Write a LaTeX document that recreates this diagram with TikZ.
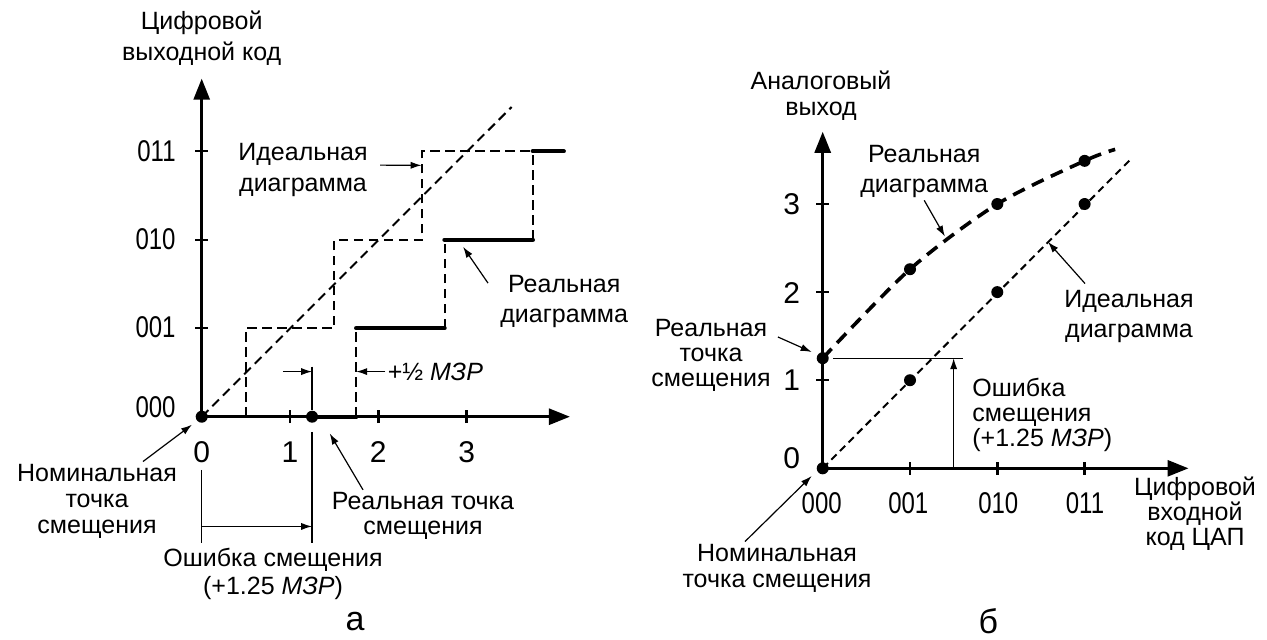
\documentclass[tikz,border=0pt]{standalone}
\usepackage{fontspec}
\setmainfont{Liberation Sans}
\usetikzlibrary{arrows.meta}
\tikzset{
  axis/.style={line width=1.4pt,-{Triangle[length=10.5pt,width=8pt]}},
  tickmark/.style={line width=1.2pt},
  ideal/.style={line width=1pt,dash pattern=on 4.7pt off 2.8pt},
  idealthin/.style={line width=1pt,dash pattern=on 3.7pt off 2.4pt},
  realstep/.style={line width=2.2pt,line cap=round},
  realcurve/.style={line width=1.8pt,dash pattern=on 6.5pt off 4pt},
  pointer/.style={line width=0.6pt,-{Latex[length=5.5pt,width=3.6pt]}},
  dim/.style={line width=0.6pt},
  dot/.style={circle,fill,inner sep=0pt,minimum size=6pt},
  lbl/.style={font=\fontsize{12.5pt}{#1}\selectfont,align=center,inner sep=1pt},
  lbl/.default=13pt,
  digit/.style={font=\fontsize{15pt}{15pt}\selectfont,inner sep=1pt},
  codelbl/.style={font=\fontsize{15pt}{15pt}\selectfont,inner sep=1pt},
  caption/.style={font=\fontsize{17pt}{17pt}\selectfont,inner sep=1pt}
}
\newcommand{\codetxt}[1]{\scalebox{0.8}[1]{#1}}

\begin{document}
\begin{tikzpicture}[x=0.5pt,y=-0.5pt]
    \useasboundingbox (0,0) rectangle (1267,639);

    \begin{scope}[shift={(201.7,416.7)},x=44.15pt,y=44.25pt]
        \draw[ideal] (0,0) -- (3.51,3.5);
        \draw[ideal] (0.5,0) -- (0.5,1) -- (1.5,1) -- (1.5,2) -- (2.5,2) -- (2.5,3) -- (3.75,3);
        \draw[ideal] (1.75,0) -- (1.75,1);
        \draw[ideal] (2.75,1) -- (2.75,2);
        \draw[ideal] (3.75,2) -- (3.75,3);
        \draw[realstep] (1.25,0) -- (1.75,0);
        \draw[realstep] (1.75,1) -- (2.75,1);
        \draw[realstep] (2.75,2) -- (3.75,2);
        \draw[realstep] (3.75,3) -- (4.1,3);

        \draw[axis] (0,0) -- (0,3.82);
        \draw[axis] (0,0) -- (4.17,0);
        \foreach \i in {1,2,3} {
            \draw[tickmark] ([yshift=-3.2pt]\i,0) -- ([yshift=3.2pt]\i,0);
            \draw[tickmark] ([xshift=-3.2pt]0,\i) -- ([xshift=3.2pt]0,\i);
        }

        \node[dot] (zeroA) at (0,0)    {};
        \node[dot] (offA)  at (1.25,0) {};

        \draw[dim] (1.25,0.565) -- (offA);
        \draw[dim] (1.25,-0.17) -- (1.25,-1.43);
        \draw[dim] (0,-0.6)     -- (0,-1.43);

        \coordinate (hl) at (0.92,0.51);
        \coordinate (hm) at (1.25,0.51);
        \coordinate (hs) at (1.75,0.51);
        \node[lbl,anchor=west] (halfA) at (2.08,0.51) {+½ \textit{МЗР}};
        \draw[pointer] (hl)          -- (hm);
        \draw[pointer] (halfA.west)  -- (hs);

        \coordinate (errA0) at (0,-1.24);
        \coordinate (errA1) at (1.25,-1.24);
        \draw[pointer] (errA0) -- (errA1);

        \coordinate (idealAtip) at (2.49,2.84);
        \coordinate (realAtip)  at (2.96,1.92);
        \coordinate (nomAtip)   at (-0.11,-0.09);
        \coordinate (offAtip)   at (1.45,-0.19);
    \end{scope}

    \node[lbl=15.3pt] (yaxA) at (201.7,38) {Цифровой\\выходной код};
    \foreach \cd/\yy in {011/151,010/239.3,001/327.3,000/406.7}
        \node[codelbl,anchor=east] (codeA\cd) at (178,\yy) {\codetxt{\cd}};
    \foreach \i/\xx in {0/201.7,1/290,2/378.3,3/466.7}
        \node[digit] (numA\i) at (\xx,451.7) {\i};

    \node[lbl=15.5pt,anchor=west] (idealDiagA) at (236,169.5) {Идеальная\\диаграмма};
    \draw[pointer] ([shift={(5pt,2.2pt)}]idealDiagA.east) -- (idealAtip);
    \node[lbl=15pt,anchor=west] (realDiagA) at (498,301.7) {Реальная\\диаграмма};
    \draw[pointer] ([shift={(-5pt,-5pt)}]realDiagA.north west) -- (realAtip);
    \node[lbl] (nomA) at (97,501) {Номинальная\\точка\\смещения};
    \draw[pointer] ([xshift=23pt]nomA.north) -- (nomAtip);
    \node[lbl=12.5pt] (offLblA) at (423,515.8) {Реальная точка\\смещения};
    \draw[pointer] ([xshift=-30pt]offLblA.north) -- (offAtip);
    \node[lbl=14pt] (errA) at (273,574) {Ошибка смещения\\(+1.25 \textit{МЗР})};
    \node[caption] (capA) at (355,621) {а};

    \begin{scope}[shift={(822.7,468.3)},x=43.65pt,y=44.05pt]
        \draw[idealthin] (0,0) -- (3.52,3.5);
        \draw[realcurve] plot[smooth] coordinates {(0,1.25) (1,2.26) (2,3) (3,3.49) (3.35,3.62)};

        \draw[axis] (0,0) -- (0,3.82);
        \draw[axis] (0,0) -- (4.19,0);
        \foreach \i in {1,2,3} {
            \draw[tickmark] ([yshift=-3.2pt]\i,0) -- ([yshift=3.2pt]\i,0);
            \draw[tickmark] ([xshift=-3.2pt]0,\i) -- ([xshift=3.2pt]0,\i);
        }

        \node[dot] (zeroB) at (0,0)    {};
        \node[dot] (offB)  at (0,1.25) {};
        \foreach \i/\v in {1/2.26,2/3,3/3.49} {
            \node[dot] (realB\i)  at (\i,\v) {};
            \node[dot] (idealB\i) at (\i,\i) {};
        }

        \draw[dim] (0.12,1.25) -- (1.61,1.25);
        \coordinate (errB0) at (1.5,0);
        \coordinate (errB1) at (1.5,1.25);
        \draw[pointer] (errB0) -- (errB1);

        \coordinate (realBtip)  at (1.40,2.63);
        \coordinate (idealBtip) at (2.58,2.57);
        \coordinate (offBtip)   at (-0.126,1.32);
        \coordinate (nomBtip)   at (-0.126,-0.087);
    \end{scope}

    \node[lbl=12.8pt] (yaxB) at (821,95.5) {Аналоговый\\выход};
    \foreach \i/\yy in {0/458.3,1/380,2/293.3,3/204}
        \node[digit] (numB\i) at (791.7,\yy) {\i};
    \foreach \cd/\xx in {000/821.7,001/908.3,010/998.3,011/1085}
        \node[codelbl] (codeB\cd) at (\xx,503.3) {\codetxt{\cd}};
    \node[lbl=12.5pt] (xaxB) at (1195,513.3) {Цифровой\\входной\\код ЦАП};

    \node[lbl=15pt] (realDiagB) at (924.2,171.7) {Реальная\\диаграмма};
    \draw[pointer] (realDiagB.south) -- (realBtip);
    \node[lbl=15pt] (idealDiagB) at (1129,316.7) {Идеальная\\диаграмма};
    \draw[pointer] ([shift={(-22pt,2.3pt)}]idealDiagB.north) -- (idealBtip);
    \node[lbl=12.5pt] (offLblB) at (711,355) {Реальная\\точка\\смещения};
    \draw[pointer] ([shift={(2.5pt,9pt)}]offLblB.east) -- (offBtip);
    \node[lbl=12.5pt,align=left,anchor=west] (errB) at (970,415) {Ошибка\\смещения\\(+1.25 \textit{МЗР})};
    \node[lbl=13.3pt] (nomB) at (777,568.3) {Номинальная\\точка смещения};
    \draw[pointer] ([xshift=-16pt]nomB.north) -- (nomBtip);
    \node[caption] (capB) at (988.3,621) {б};
\end{tikzpicture}
\end{document}
